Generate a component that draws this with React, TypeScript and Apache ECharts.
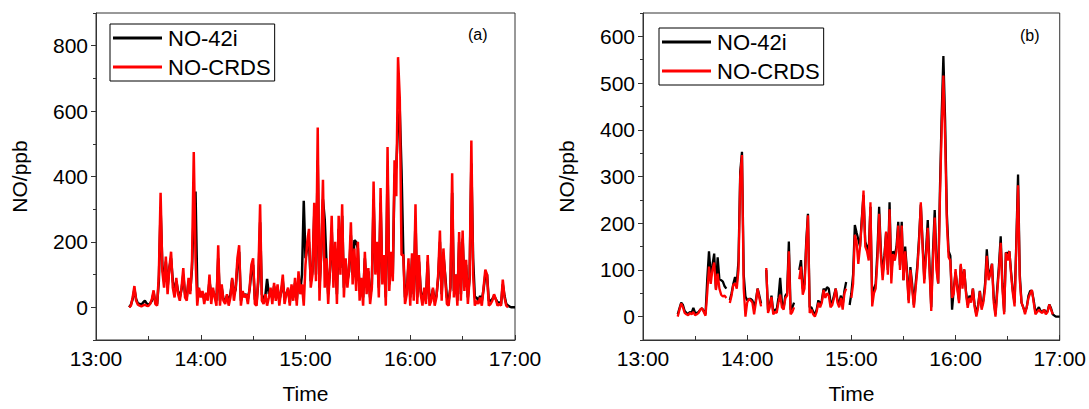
import React, { useEffect, useRef } from "react";
import * as echarts from "echarts";

const FONT = "Liberation Sans, Arial, sans-serif";

// Panel (a): one value per minute from 13:19
const A_START_MIN = 799;
const redA = [
  0, 5, 30, 65, 20, 8, 5, 3, 6, 8,
  5, 4, 10, 25, 52, 10, 5, 100, 350, 110,
  60, 155, 40, 120, 170, 60, 30, 90, 40, 20,
  60, 120, 30, 20, 90, 40, 140, 475, 150, 5,
  60, 30, 50, 10, 45, 20, 100, 10, 60, 30,
  5, 190, 5, 70, 20, 10, 40, 5, 30, 90,
  20, 60, 150, 190, 5, 50, 30, 40, 10, 60,
  130, 150, 10, 5, 100, 315, 20, 10, 40, 5,
  30, 60, 10, 75, 20, 70, 5, 50, 100, 10,
  40, 60, 5, 70, 20, 90, 5, 110, 40, 70,
  5, 130, 200, 240, 60, 100, 320, 80, 550, 20,
  180, 390, 60, 150, 10, 120, 280, 60, 200, 10,
  280, 100, 315, 30, 150, 60, 120, 260, 70, 180,
  50, 200, 20, 90, 5, 170, 40, 120, 10, 60,
  385, 100, 200, 30, 365, 70, 160, 5, 490, 50,
  170, 80, 450, 340, 765, 640, 160, 160, 10, 40,
  150, 5, 165, 20, 315, 10, 160, 40, 5, 60,
  10, 160, 5, 20, 60, 5, 30, 100, 235, 20,
  180, 90, 10, 5, 60, 410, 30, 100, 5, 230,
  20, 235, 50, 145, 10, 90, 510, 100, 5, 20,
  10, 30, 5, 60, 115, 100, 5, 10, 20, 40,
  25, 5, 10, 5, 85, 30, 5, 0, null, null,
  null, null,
];
const blackA = [
  0, 8, 25, 55, 25, 12, 10, 8, 15, 20,
  12, 8, 12, 20, 45, 15, 10, 80, 300, 130,
  80, 140, 60, 120, 150, 80, 50, 80, 50, 30,
  55, 100, 40, 30, 80, 50, 120, 300, 354, 60,
  50, 40, 45, 25, 40, 30, 80, 40, 50, 35,
  20, 150, 20, 60, 25, 20, 35, 20, 40, 85,
  40, 55, 130, 170, 20, 45, 35, 40, 25, 55,
  110, 130, 25, 15, 80, 260, 40, 25, 35, 87,
  40, 55, 25, 65, 30, 60, 20, 45, 80, 30,
  40, 55, 15, 60, 30, 75, 20, 95, 50, 100,
  326, 150, 180, 200, 80, 110, 280, 100, 450, 60,
  160, 330, 270, 140, 40, 110, 240, 90, 180, 40,
  240, 120, 280, 60, 140, 80, 110, 220, 100, 205,
  200, 180, 50, 80, 30, 150, 60, 110, 30, 70,
  330, 120, 180, 60, 320, 90, 140, 30, 420, 70,
  160, 100, 400, 430, 560, 600, 420, 170, 30, 50,
  130, 30, 150, 40, 270, 30, 140, 50, 20, 50,
  25, 140, 20, 30, 55, 20, 35, 90, 200, 40,
  160, 100, 30, 20, 60, 350, 50, 100, 20, 200,
  40, 210, 70, 130, 30, 90, 440, 150, 30, 30,
  20, 35, 20, 55, 100, 100, 20, 20, 25, 35,
  25, 15, 15, 10, 70, 35, 10, 5, 2, 0,
  0, 0,
];

// Panel (b): one value per minute from 13:20
const B_START_MIN = 800;
const redB = [
  0, 15, 28, 20, 8, 5, 3, 8, 5, 10,
  3, 5, 8, 15, 18, 10, 2, 50, 107, 70,
  100, 116, 57, 92, 60, 47, 43, 45, 40, null,
  29, 45, 68, 71, 60, 100, 300, 346, 60, 0,
  30, 38, 35, 30, 5, 30, 60, 40, 22, null,
  null, 104, 8, 20, 42, 5, 10, 8, 30, 47,
  20, 15, 40, 45, 140, 5, 10, 20, null, null,
  80, 107, 47, 60, 150, 217, 8, 15, 5, 0,
  10, 30, 20, 30, 57, 40, 50, 45, 20, 25,
  40, 60, 30, 20, 40, 15, 50, 60, null, null,
  40, 70, 175, 160, 113, 150, 200, 270, 150, 140,
  120, 245, 22, 50, 60, 120, 220, 130, 78, 120,
  182, 90, 230, 71, 134, 120, 140, 195, 100, 195,
  78, 140, 90, 29, 100, 60, 19, 60, 100, 160,
  245, 150, 71, 130, 190, 100, 12, 120, 212, 100,
  71, 250, 400, 516, 380, 200, 127, 120, 40, 50,
  102, 60, 29, 113, 60, 102, 50, 19, 40, 30,
  60, 20, 0, 20, 54, 15, 30, 60, 130, 78,
  90, 113, 30, 0, 50, 100, 158, 60, 5, 137,
  120, 140, 90, 50, 22, 150, 281, 78, 30, 20,
  5, 20, 40, 50, 57, 30, 5, 10, 15, 10,
  8, 15, 5, 10, 26, 15, 5, null, null, null,
  null,
];
const blackB = [
  5, 18, 30, 25, 12, 8, 6, 10, 8, 19,
  8, 8, 10, 15, 18, 12, 5, 80, 140, 90,
  110, 135, 60, 127, 80, 78, 75, 65, 60, null,
  35, 50, 70, 85, 70, 120, 310, 353, 90, 43,
  35, 38, 38, 35, 20, 35, 60, 45, 28, null,
  null, 100, 15, 25, 45, 10, 15, 15, 40, 83,
  30, 20, 45, 50, 161, 15, 20, 30, null, null,
  100, 121, 60, 70, 160, 220, 20, 20, 10, 5,
  15, 35, 25, 35, 60, 55, 63, 60, 30, 30,
  45, 60, 35, 30, 45, 25, 55, 74, null, 25,
  50, 90, 196, 180, 165, 150, 210, 260, 160, 150,
  140, 235, 35, 60, 70, 140, 235, 140, 90, 130,
  180, 100, 245, 90, 140, 130, 150, 203, 110, 203,
  78, 150, 100, 35, 106, 70, 25, 70, 110, 170,
  240, 160, 80, 140, 207, 110, 20, 140, 228, 120,
  71, 270, 430, 558, 420, 220, 140, 130, 15, 60,
  95, 65, 35, 110, 70, 100, 55, 25, 45, 35,
  60, 25, 5, 25, 55, 20, 35, 70, 144, 90,
  95, 113, 40, 5, 60, 110, 172, 70, 10, 137,
  135, 140, 95, 55, 30, 160, 304, 90, 30, 20,
  10, 20, 45, 55, 55, 35, 10, 15, 20, 12,
  10, 15, 8, 12, 26, 18, 5, 2, 0, 0,
  0,
];

const SERIES_NAMES = ["NO-42i", "NO-CRDS"];
const Y_TICKS_A = [0, 200, 400, 600, 800];
const Y_TICKS_B = [0, 100, 200, 300, 400, 500, 600];

const toPairs = (start: number, vals: (number | null)[]) =>
  vals.map((v, i) => [start + i, v === null ? null : v]);

const axisColor = "#333";

function xAxisFor(gridIndex: number) {
  return {
    gridIndex,
    type: "value",
    min: 780,
    max: 1020,
    interval: 60,
    name: "Time",
    nameLocation: "middle",
    nameGap: 43,
    nameTextStyle: { fontSize: 21, color: "#000", fontFamily: FONT },
    axisLine: { show: true, onZero: false, lineStyle: { color: axisColor, width: 1 } },
    axisTick: { show: true, inside: true, length: 5, lineStyle: { color: axisColor } },
    minorTick: { show: true, splitNumber: 2, length: 4, lineStyle: { color: axisColor } },
    axisLabel: {
      fontSize: 21,
      color: "#000",
      fontFamily: FONT,
      margin: 8,
      formatter: (v: number) => `${Math.round(v / 60)}:00`,
    },
    splitLine: { show: false },
    minorSplitLine: { show: false },
  };
}

function yAxesFor(gridIndex: number, min: number, max: number, step: number, ticks: number[], gap: number) {
  const main = {
    gridIndex,
    type: "value",
    min,
    max,
    interval: step,
    position: "left",
    name: "NO/ppb",
    nameLocation: "middle",
    nameRotate: 90,
    nameGap: gap,
    nameTextStyle: { fontSize: 21, color: "#000", fontFamily: FONT },
    axisLine: { show: true, onZero: false, lineStyle: { color: axisColor, width: 1 } },
    axisTick: { show: true, inside: false, length: 5, customValues: ticks, lineStyle: { color: axisColor } },
    axisLabel: {
      fontSize: 21,
      color: "#000",
      fontFamily: FONT,
      margin: 8,
      customValues: ticks,
      formatter: (v: number) => (ticks.indexOf(v) >= 0 ? String(v) : ""),
    },
    splitLine: { show: false },
  };
  const minor = {
    gridIndex,
    type: "value",
    min,
    max,
    interval: step,
    position: "left",
    axisLine: { show: false },
    axisTick: { show: true, inside: false, length: 3, lineStyle: { color: axisColor } },
    axisLabel: { show: false },
    splitLine: { show: false },
  };
  return [main, minor];
}

function legendFor(left: number, top: number) {
  return {
    left,
    top,
    orient: "vertical",
    data: SERIES_NAMES,
    icon: "rect",
    itemWidth: 49,
    itemHeight: 3,
    itemGap: 7,
    borderColor: "#000",
    borderWidth: 1,
    padding: [3, 4, 3, 3],
    textStyle: { fontSize: 22, color: "#000", fontFamily: FONT, padding: [0, 0, 0, 1] },
    selectedMode: false,
  };
}

export default function App() {
  const ref = useRef<HTMLDivElement>(null);
  useEffect(() => {
    if (!ref.current) return;
    const chart = echarts.init(ref.current, undefined, { renderer: "svg" });
    const [yaMain, yaMinor] = yAxesFor(0, -100, 900, 100, Y_TICKS_A, 66);
    const [ybMain, ybMinor] = yAxesFor(1, -50, 650, 50, Y_TICKS_B, 66);
    const lineSeries = (name: string, color: string, xIdx: number, yIdx: number, data: any[], width: number) => ({
      name,
      type: "line",
      xAxisIndex: xIdx,
      yAxisIndex: yIdx,
      data,
      showSymbol: false,
      symbol: "none",
      color,
      lineStyle: { color, width },
      connectNulls: false,
    });
    chart.setOption({
      animation: false,
      backgroundColor: "#fff",
      grid: [
        { left: 96, top: 13, width: 419, height: 336, show: true, borderColor: axisColor, borderWidth: 1, backgroundColor: "transparent" },
        { left: 643, top: 13, width: 417, height: 335, show: true, borderColor: axisColor, borderWidth: 1, backgroundColor: "transparent" },
      ],
      xAxis: [xAxisFor(0), xAxisFor(1)],
      yAxis: [yaMain, yaMinor, ybMain, ybMinor],
      legend: [legendFor(110, 24), legendFor(659, 28)],
      series: [
        lineSeries("NO-42i", "#000000", 0, 0, toPairs(A_START_MIN, blackA), 2.5),
        lineSeries("NO-CRDS", "#ff0000", 0, 0, toPairs(A_START_MIN, redA), 2.5),
        lineSeries("NO-42i", "#000000", 1, 2, toPairs(B_START_MIN, blackB), 2.3),
        lineSeries("NO-CRDS", "#ff0000", 1, 2, toPairs(B_START_MIN, redB), 2.3),
      ],
      graphic: [
        { type: "text", left: 468, top: 26, style: { text: "(a)", fontSize: 16, fill: "#000", fontFamily: FONT } },
        { type: "text", left: 1020, top: 27, style: { text: "(b)", fontSize: 16, fill: "#000", fontFamily: FONT } },
      ],
    });
    return () => chart.dispose();
  }, []);
  return (
    <div
      ref={ref}
      style={{ position: "fixed", left: 0, top: 0, width: 1089, height: 409 }}
    />
  );
}
